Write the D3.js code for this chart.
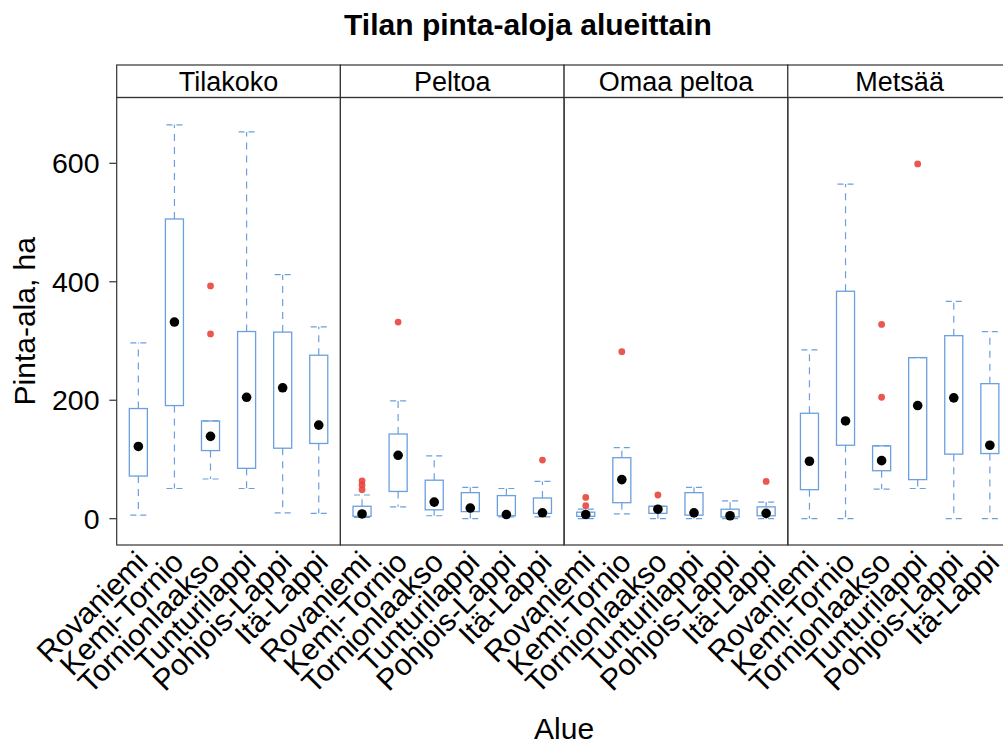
<!DOCTYPE html>
<html>
<head>
<meta charset="utf-8">
<script src="https://cdn.jsdelivr.net/npm/d3@7"></script>
<style>
  body { margin: 0; background: #fff; }
  text { font-family: "Liberation Sans", Arial, sans-serif; fill: #000; }
</style>
</head>
<body>
<script>
const w = 1003;
const h = 744;

const regions = ["Rovaniemi", "Kemi-Tornio", "Tornionlaakso", "Tunturilappi", "Pohjois-Lappi", "Itä-Lappi"];
const panels = ["Tilakoko", "Peltoa", "Omaa peltoa", "Metsää"];
const yTicks = [0, 200, 400, 600];

// [alaviiksi, Q1, mediaani, Q3, yläviiksi] per alue
const tilakoko   = [[6, 72, 122, 186, 297], [51, 191, 332, 506, 665], [67, 115, 139, 165, 165], [51, 85, 205, 316, 653], [10, 119, 221, 315, 412], [9, 127, 158, 276, 324]];
const peltoa     = [[2, 4, 8, 21, 40], [20, 46, 107, 143, 199], [5, 15, 28, 65, 106], [0, 12, 18, 44, 53], [3, 5, 7, 39, 51], [3, 9, 10, 35, 63]];
const omaaPeltoa = [[0, 4, 7, 11, 16], [8, 27, 66, 103, 120], [0, 9, 16, 21, 21], [0, 6, 10, 44, 53], [0, 3, 5, 16, 30], [0, 5, 9, 20, 28]];
const metsaa     = [[0, 49, 97, 178, 285], [0, 124, 165, 384, 565], [50, 81, 98, 123, 123], [51, 66, 191, 272, 272], [0, 109, 204, 309, 367], [0, 110, 124, 228, 316]];

// poikkeavat havainnot
const outTilakoko   = [[], [], [393, 312], [], [], []];
const outPeltoa     = [[64, 57, 49], [332], [], [], [], [99]];
const outOmaaPeltoa = [[36, 22], [282], [40], [], [], [63]];
const outMetsaa     = [[], [], [328, 205], [599], [], []];

const stats = [tilakoko, peltoa, omaaPeltoa, metsaa];
const outliers = [outTilakoko, outPeltoa, outOmaaPeltoa, outMetsaa];

const boxColor = "#6b9fde";
const dotRed = "#e8453c";
const frame = "#333";

const svg = d3.select("body")
              .append("svg")
              .attr("width", w)
              .attr("height", h);

const left = 116.7, panelW = 223.7;
const plotTop = 97.5, plotBottom = 545, stripTop = 65;

const xPanel = d3.scaleBand()
    .domain(panels)
    .range([left, left + panelW * panels.length])
    .padding(0);

const xInner = d3.scalePoint()
    .domain(regions)
    .range([0, panelW])
    .padding(0.6);

const yScale = d3.scaleLinear()
    .domain([-44.4, 711.1])
    .range([plotBottom, plotTop]);

const boxW = xInner.step() * 0.5;
const capW = 16;

panels.forEach((p, pi) => {
  const g = svg.append("g")
      .attr("transform", "translate(" + xPanel(p) + ",0)");

  // strip
  g.append("rect")
    .attr("x", 0).attr("y", stripTop)
    .attr("width", panelW).attr("height", plotTop - stripTop)
    .attr("fill", "#fff").attr("stroke", frame).attr("stroke-width", 1.2);
  g.append("text")
    .attr("x", panelW / 2).attr("y", (stripTop + plotTop) / 2 + 1)
    .attr("text-anchor", "middle")
    .attr("dominant-baseline", "central")
    .attr("font-size", 27)
    .text(p);

  // panel frame
  g.append("rect")
    .attr("x", 0).attr("y", plotTop)
    .attr("width", panelW).attr("height", plotBottom - plotTop)
    .attr("fill", "none").attr("stroke", frame).attr("stroke-width", 1.2);

  const data = stats[pi];
  const boxes = g.selectAll(".box")
    .data(regions)
    .enter().append("g")
    .attr("transform", d => "translate(" + xInner(d) + ",0)");

  // whiskers
  boxes.append("line")
    .attr("x1", 0).attr("x2", 0)
    .attr("y1", (d, i) => yScale(data[i][1]))
    .attr("y2", (d, i) => yScale(data[i][0]))
    .attr("stroke", boxColor).attr("stroke-width", 1.2)
    .attr("stroke-dasharray", "7,6");
  boxes.append("line")
    .attr("x1", 0).attr("x2", 0)
    .attr("y1", (d, i) => yScale(data[i][3]))
    .attr("y2", (d, i) => yScale(data[i][4]))
    .attr("stroke", boxColor).attr("stroke-width", 1.2)
    .attr("stroke-dasharray", "7,6");
  [0, 4].forEach(k => {
    boxes.append("line")
      .attr("x1", -capW / 2).attr("x2", capW / 2)
      .attr("y1", (d, i) => yScale(data[i][k]))
      .attr("y2", (d, i) => yScale(data[i][k]))
      .attr("stroke", boxColor).attr("stroke-width", 1.2)
      .attr("stroke-dasharray", "6,4");
  });

  // box
  boxes.append("rect")
    .attr("x", -boxW / 2)
    .attr("width", boxW)
    .attr("y", (d, i) => yScale(data[i][3]))
    .attr("height", (d, i) => yScale(data[i][1]) - yScale(data[i][3]))
    .attr("fill", "none")
    .attr("stroke", boxColor).attr("stroke-width", 1.3);

  // outliers
  boxes.each(function (d, i) {
    d3.select(this).selectAll("circle.out")
      .data(outliers[pi][i])
      .enter().append("circle")
      .attr("cx", 0)
      .attr("cy", v => yScale(v))
      .attr("r", 3.4)
      .attr("fill", dotRed)
      .attr("fill-opacity", 0.9);
  });

  // median
  boxes.append("circle")
    .attr("cx", 0)
    .attr("cy", (d, i) => yScale(data[i][2]))
    .attr("r", 4.8)
    .attr("fill", "#000");

  // x labels
  g.selectAll(".xl")
    .data(regions)
    .enter().append("text")
    .attr("transform", d => "translate(" + (xInner(d) + 11) + "," + (plotBottom + 19) + ") rotate(-45)")
    .attr("text-anchor", "end")
    .attr("font-size", 30)
    .text(d => d);
});

// y axis
const yAxis = svg.append("g");
yAxis.selectAll("line")
  .data(yTicks)
  .enter().append("line")
  .attr("x1", left - 7.4).attr("x2", left)
  .attr("y1", d => yScale(d)).attr("y2", d => yScale(d))
  .attr("stroke", frame).attr("stroke-width", 1.2);
yAxis.selectAll("text")
  .data(yTicks)
  .enter().append("text")
  .attr("x", 99.5)
  .attr("y", d => yScale(d))
  .attr("text-anchor", "end")
  .attr("dominant-baseline", "central")
  .attr("font-size", 28.5)
  .text(d => d);

svg.append("text")
  .attr("transform", "translate(24," + (plotTop + plotBottom) / 2 + ") rotate(-90)")
  .attr("text-anchor", "middle")
  .attr("dominant-baseline", "central")
  .attr("font-size", 30)
  .text("Pinta-ala, ha");

svg.append("text")
  .attr("x", left + panelW * 2)
  .attr("y", 739)
  .attr("text-anchor", "middle")
  .attr("font-size", 30)
  .text("Alue");

svg.append("text")
  .attr("x", 528)
  .attr("y", 35)
  .attr("text-anchor", "middle")
  .attr("font-size", 30)
  .attr("font-weight", "bold")
  .text("Tilan pinta-aloja alueittain");
</script>
</body>
</html>
